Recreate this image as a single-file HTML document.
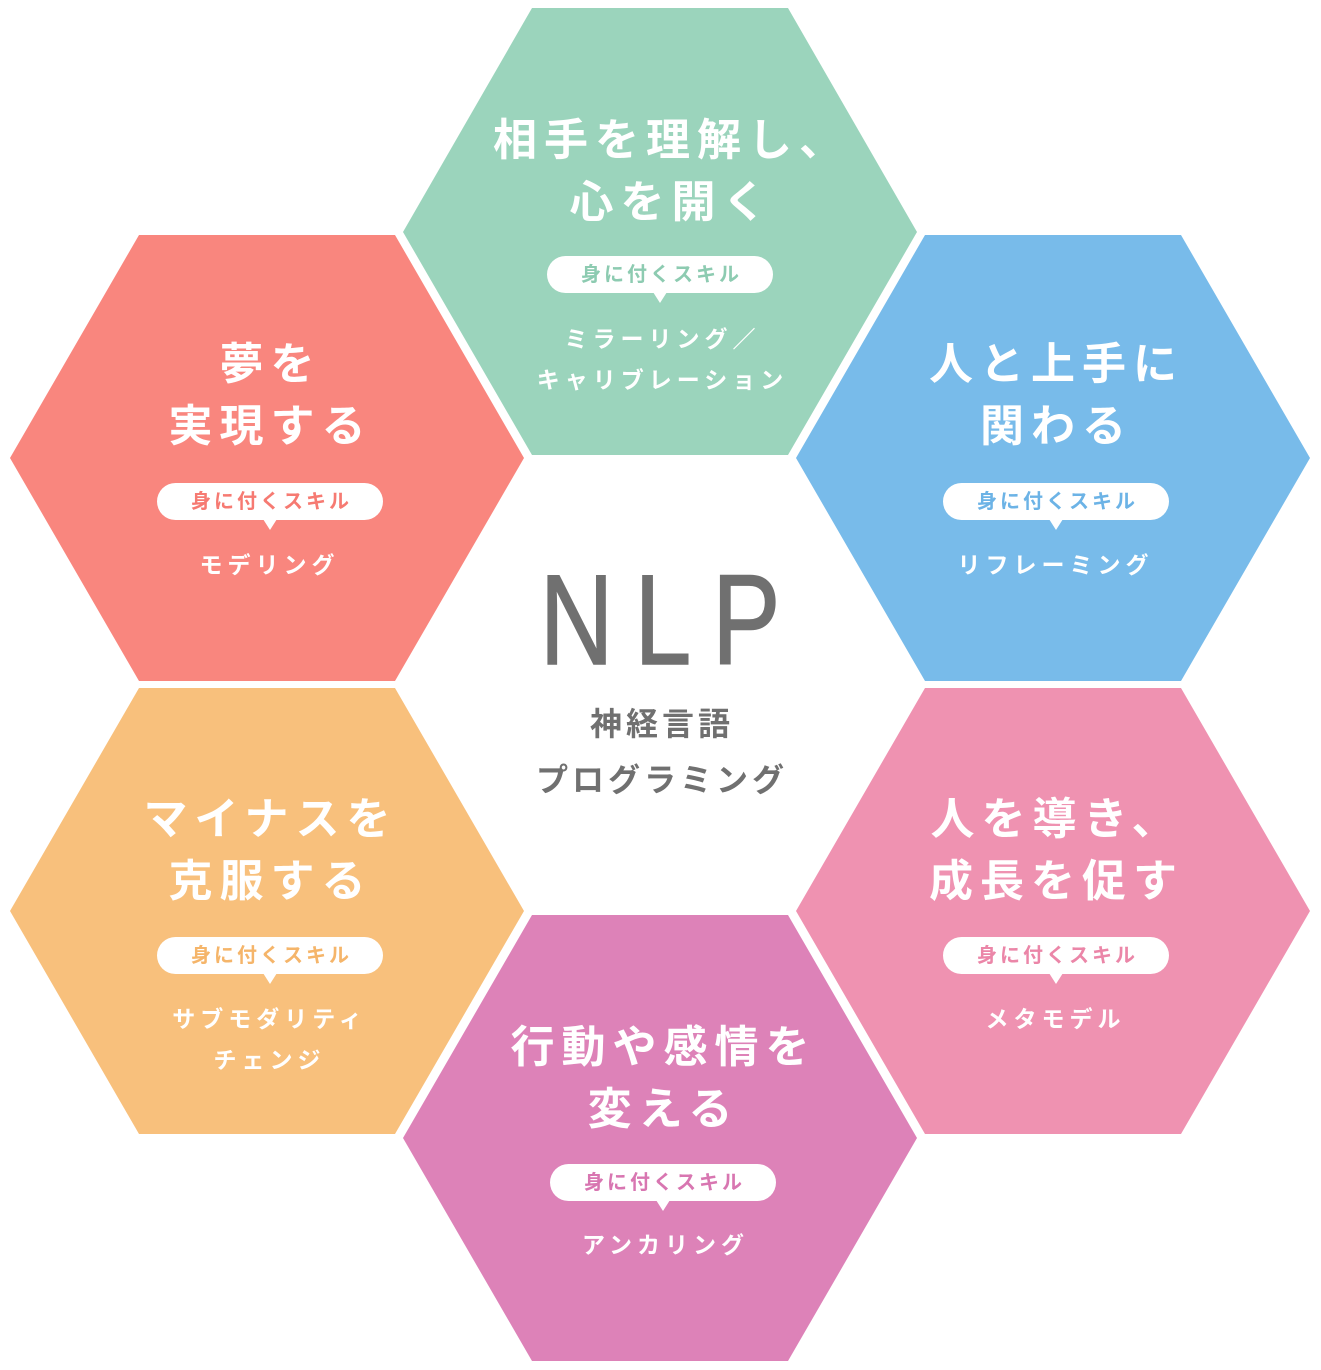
<!DOCTYPE html>
<html><head><meta charset="utf-8">
<style>
body{margin:0;width:1321px;height:1370px;background:#fff;position:relative;overflow:hidden;font-family:"Liberation Sans","Noto Sans CJK JP",sans-serif;}
svg{position:absolute;left:0;top:0}
.t{position:absolute;width:500px;text-align:center;color:#fff;font-weight:bold;font-size:44px;letter-spacing:7px;padding-left:7px;box-sizing:border-box;line-height:62px;white-space:nowrap}
.pill{position:absolute;width:226px;height:37px;border-radius:19px;background:#fff;text-align:center;line-height:39px;font-size:20px;font-weight:bold;letter-spacing:3px;padding-left:3px;box-sizing:border-box}
.pill:after{content:"";position:absolute;left:106px;top:36px;border-left:7px solid transparent;border-right:7px solid transparent;border-top:11px solid #fff}
.s{position:absolute;width:400px;text-align:center;color:#fff;font-weight:bold;font-size:23px;letter-spacing:5px;padding-left:5px;box-sizing:border-box;line-height:41px;white-space:nowrap}
</style></head><body>
<svg width="1321" height="1370">
<polygon points="532,8 788,8 917,232 788,455 532,455 403,232" fill="#9bd4bc"/>
<polygon points="139,235 395,235 524,458 395,681 139,681 10,458" fill="#f9867e"/>
<polygon points="925,235 1181,235 1310,458 1181,681 925,681 796,458" fill="#78bbea"/>
<polygon points="139,688 395,688 524,911 395,1134 139,1134 10,911" fill="#f8c07c"/>
<polygon points="925,688 1181,688 1310,911 1181,1134 925,1134 796,911" fill="#ef92b1"/>
<polygon points="532,915 788,915 917,1138 788,1361 532,1361 403,1138" fill="#dd82b8"/>
</svg>

<div class="t" style="left:418px;top:110px">相手を理解し、<br>心を開く</div>
<div class="pill" style="left:547px;top:256px;color:#8dcbb1">身に付くスキル</div>
<div class="s" style="left:460px;top:319px">ミラーリング／<br>キャリブレーション</div>

<div class="t" style="left:17px;top:334px">夢を<br>実現する</div>
<div class="pill" style="left:157px;top:483px;color:#f67a72">身に付くスキル</div>
<div class="s" style="left:67px;top:545px">モデリング</div>

<div class="t" style="left:803px;top:334px">人と上手に<br>関わる</div>
<div class="pill" style="left:943px;top:483px;color:#6cb3e6">身に付くスキル</div>
<div class="s" style="left:853px;top:545px">リフレーミング</div>

<div class="t" style="left:17px;top:789px">マイナスを<br>克服する</div>
<div class="pill" style="left:157px;top:937px;color:#f5b56a">身に付くスキル</div>
<div class="s" style="left:67px;top:999px">サブモダリティ<br>チェンジ</div>

<div class="t" style="left:803px;top:789px">人を導き、<br>成長を促す</div>
<div class="pill" style="left:943px;top:937px;color:#eb86a8">身に付くスキル</div>
<div class="s" style="left:853px;top:999px">メタモデル</div>

<div class="t" style="left:410px;top:1017px">行動や感情を<br>変える</div>
<div class="pill" style="left:550px;top:1164px;color:#d876b1">身に付くスキル</div>
<div class="s" style="left:463px;top:1225px">アンカリング</div>

<div style="position:absolute;left:460px;top:556px;width:400px;text-align:center;color:#707070;font-size:128px;line-height:130px;letter-spacing:26px;padding-left:26px;box-sizing:border-box;transform:scaleX(0.8);-webkit-text-stroke:1.5px #707070">NLP</div>
<div style="position:absolute;left:460px;top:696px;width:400px;text-align:center;color:#707070;font-size:32px;font-weight:bold;letter-spacing:4px;padding-left:4px;box-sizing:border-box;line-height:56px">神経言語<br>プログラミング</div>
</body></html>
